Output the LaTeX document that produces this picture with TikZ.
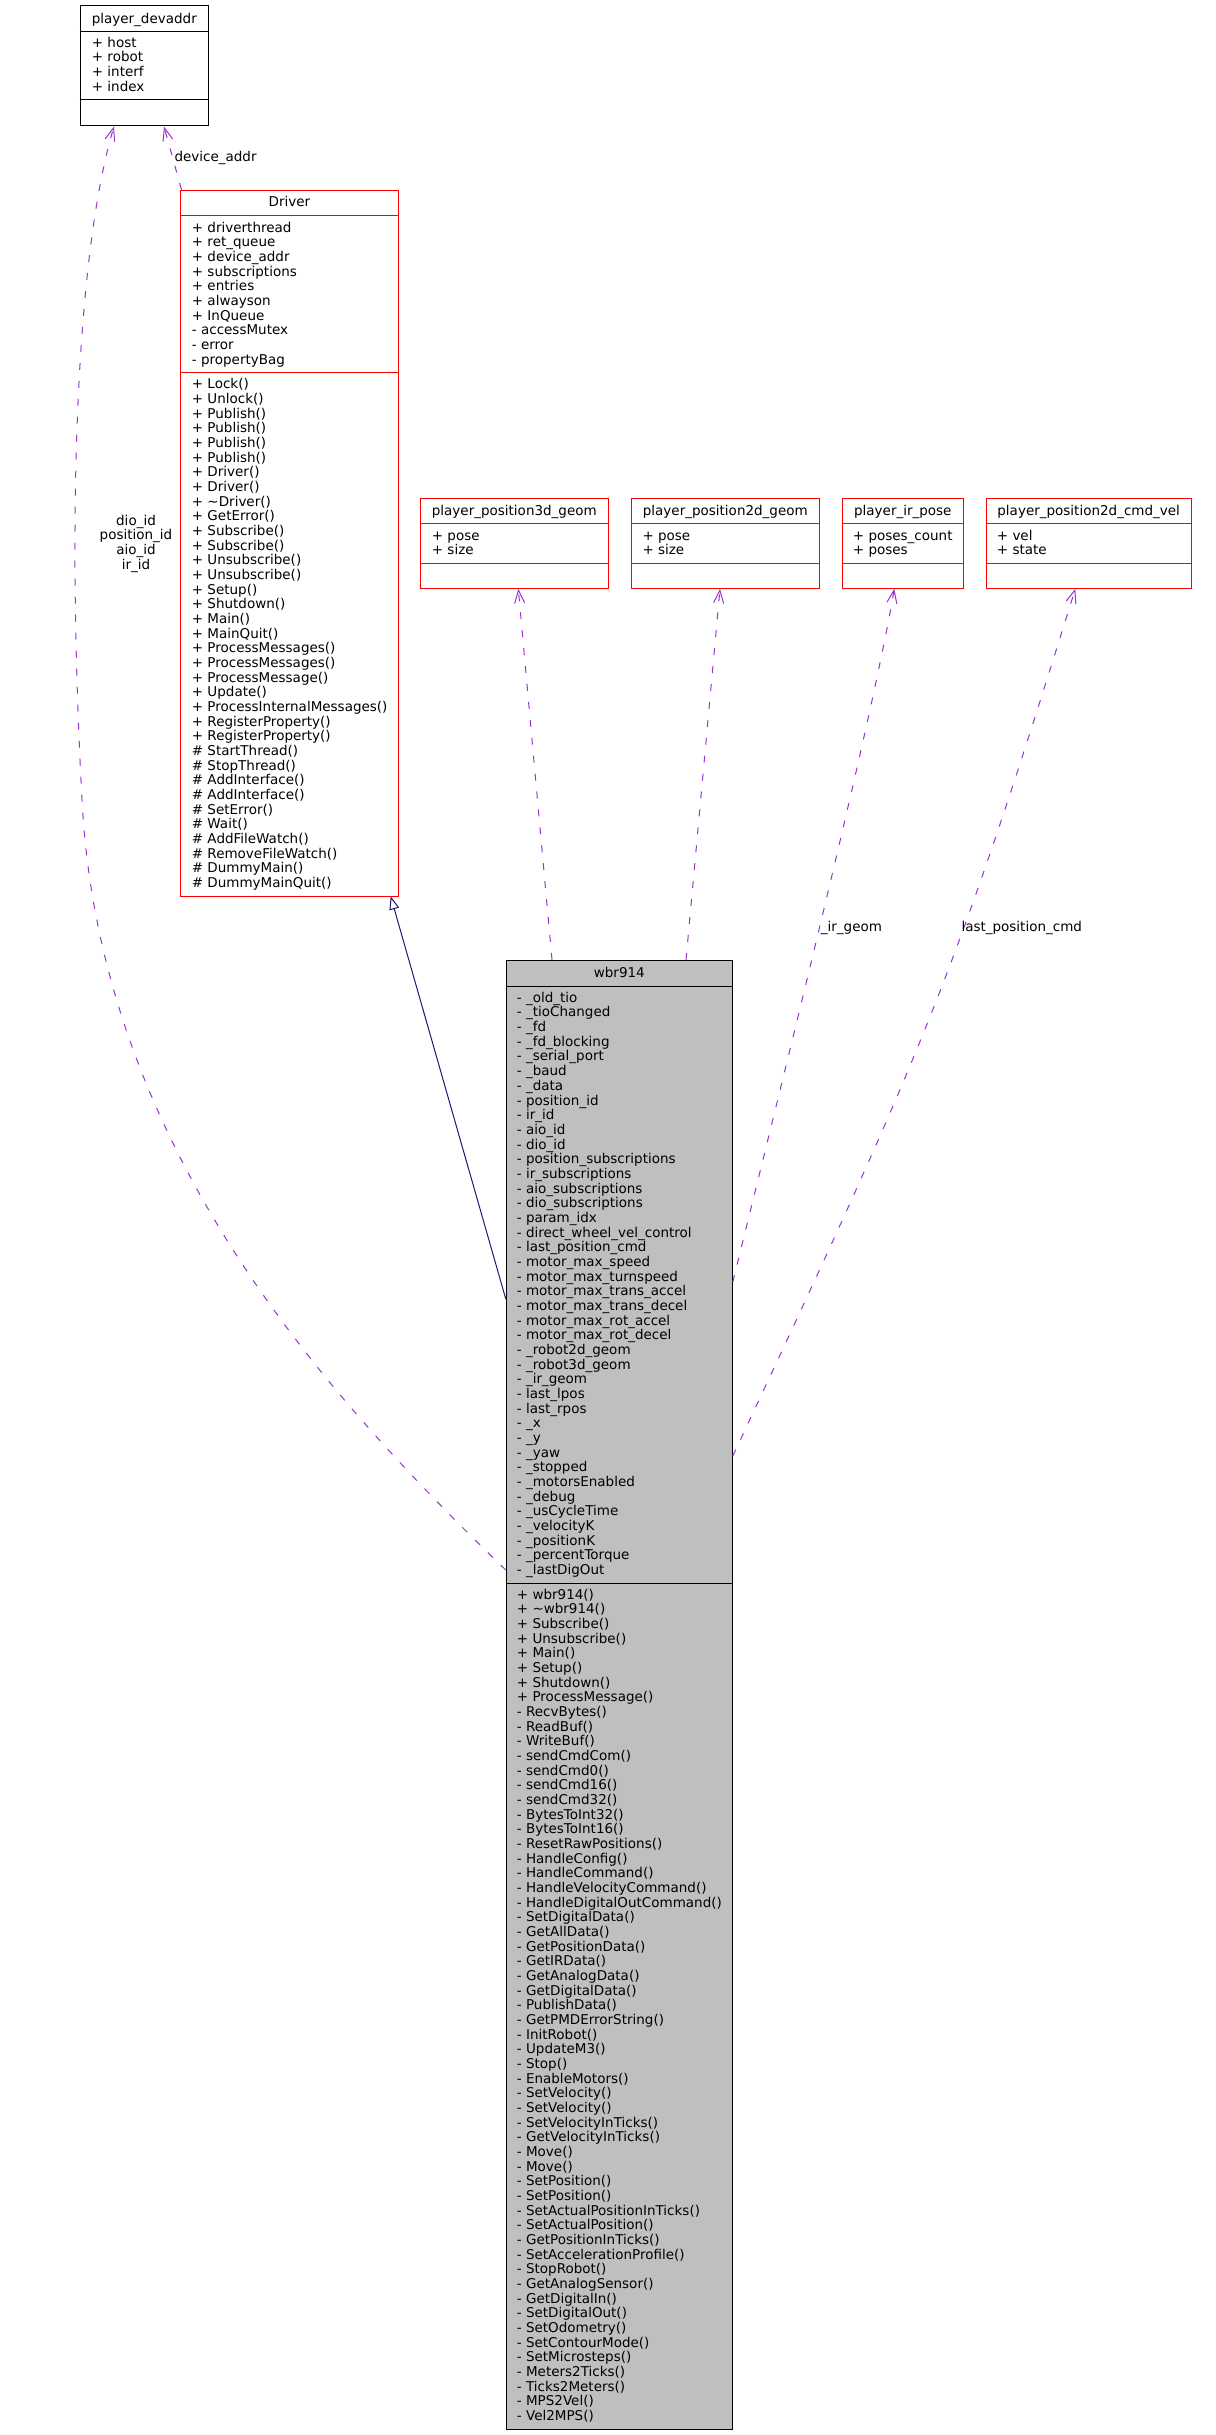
\documentclass[tikz,border=0pt]{standalone}
\usepackage{fontspec}
\newfontfamily\dvs{DejaVu Sans}
\usetikzlibrary{arrows.meta}
\definecolor{grey75}{HTML}{BFBFBF}
\definecolor{orchidline}{HTML}{9A32CD}
\definecolor{navyline}{HTML}{191970}
\newcommand\dvf{\dvs\fontsize{13.5}{14.67}\selectfont}
\newcommand\mylines[4]{\foreach \t [count=\i from 0] in {#4} {\node[mem] (#1\i) at (#2,{#3+14.67*\i}) {\t};}}
\begin{document}
\begin{tikzpicture}[x=1pt,y=-1pt,
  box/.style={draw=red, line width=1pt, rectangle, inner sep=0pt},
  kbox/.style={draw=black, line width=1pt, rectangle, inner sep=0pt},
  wbox/.style={draw=black, fill=grey75, line width=1pt, rectangle, inner sep=0pt},
  rsep/.style={draw=red, line width=1pt},
  bsep/.style={draw=black, line width=1pt},
  mem/.style={anchor=base west, inner sep=0pt, font=\dvf},
  ttl/.style={anchor=base, inner sep=0pt, font=\dvf},
  rel/.style={draw=orchidline, line width=1pt, dash pattern=on 7pt off 11pt, -{Straight Barb[length=13pt,width=10pt]}},
  inh/.style={draw=navyline, line width=1pt, -{Triangle[open,length=13pt,width=10pt]}}]
\useasboundingbox (0,0) rectangle (1215,2435);

% player_devaddr
\node[kbox, minimum width=128pt, minimum height=120pt] (dev) at (144.3,66) {};
\draw[bsep] (dev.west |- 0,31.3) -- (dev.east |- 0,31.3);
\draw[bsep] (dev.west |- 0,100) -- (dev.east |- 0,100);
\node[ttl] (devT) at (144.3,23.3) {player\_devaddr};
\mylines{devA}{91.7}{47.3}{+ host,+ robot,+ interf,+ index}

% Driver
\node[box, minimum width=218.4pt, minimum height=705.7pt] (drv) at (289.5,543.15) {};
\draw[rsep] (drv.west |- 0,215) -- (drv.east |- 0,215);
\draw[rsep] (drv.west |- 0,372.3) -- (drv.east |- 0,372.3);
\node[ttl] (drvT) at (289.5,206.7) {Driver};
\mylines{drvA}{191.7}{232.3}{+ driverthread,+ ret\_queue,+ device\_addr,+ subscriptions,+ entries,+ alwayson,+ InQueue,- accessMutex,- error,- propertyBag}
\mylines{drvM}{191.7}{388.7}{+ Lock(),+ Unlock(),+ Publish(),+ Publish(),+ Publish(),+ Publish(),+ Driver(),+ Driver(),+ \textasciitilde Driver(),+ GetError(),+ Subscribe(),+ Subscribe(),+ Unsubscribe(),+ Unsubscribe(),+ Setup(),+ Shutdown(),+ Main(),+ MainQuit(),+ ProcessMessages(),+ ProcessMessages(),+ ProcessMessage(),+ Update(),+ ProcessInternalMessages(),+ RegisterProperty(),+ RegisterProperty(),\# StartThread(),\# StopThread(),\# AddInterface(),\# AddInterface(),\# SetError(),\# Wait(),\# AddFileWatch(),\# RemoveFileWatch(),\# DummyMain(),\# DummyMainQuit()}

% player_position3d_geom
\node[box, minimum width=188pt, minimum height=90pt] (p3d) at (514.3,543.3) {};
\draw[rsep] (p3d.west |- 0,523.3) -- (p3d.east |- 0,523.3);
\draw[rsep] (p3d.west |- 0,563.3) -- (p3d.east |- 0,563.3);
\node[ttl] (p3dT) at (514.3,515) {player\_position3d\_geom};
\mylines{p3dA}{431.7}{540}{+ pose,+ size}

% player_position2d_geom
\node[box, minimum width=188pt, minimum height=90pt] (p2d) at (725.3,543.3) {};
\draw[rsep] (p2d.west |- 0,523.3) -- (p2d.east |- 0,523.3);
\draw[rsep] (p2d.west |- 0,563.3) -- (p2d.east |- 0,563.3);
\node[ttl] (p2dT) at (725.3,515) {player\_position2d\_geom};
\mylines{p2dA}{642.3}{540}{+ pose,+ size}

% player_ir_pose
\node[box, minimum width=121pt, minimum height=90pt] (irp) at (902.8,543.3) {};
\draw[rsep] (irp.west |- 0,523.3) -- (irp.east |- 0,523.3);
\draw[rsep] (irp.west |- 0,563.3) -- (irp.east |- 0,563.3);
\node[ttl] (irpT) at (902.8,515) {player\_ir\_pose};
\mylines{irpA}{852.7}{540}{+ poses\_count,+ poses}

% player_position2d_cmd_vel
\node[box, minimum width=204.7pt, minimum height=90pt] (cmd) at (1088.65,543.3) {};
\draw[rsep] (cmd.west |- 0,523.3) -- (cmd.east |- 0,523.3);
\draw[rsep] (cmd.west |- 0,563.3) -- (cmd.east |- 0,563.3);
\node[ttl] (cmdT) at (1088.65,515) {player\_position2d\_cmd\_vel};
\mylines{cmdA}{996.7}{540}{+ vel,+ state}

% wbr914
\node[wbox, minimum width=226pt, minimum height=1468.7pt] (wbr) at (619.3,1694.65) {};
\draw[bsep] (wbr.west |- 0,986.3) -- (wbr.east |- 0,986.3);
\draw[bsep] (wbr.west |- 0,1583.3) -- (wbr.east |- 0,1583.3);
\node[ttl] (wbrT) at (619.3,977.7) {wbr914};
\mylines{wbrA}{516.7}{1002.3}{- \_old\_tio,- \_tioChanged,- \_fd,- \_fd\_blocking,- \_serial\_port,- \_baud,- \_data,- position\_id,- ir\_id,- aio\_id,- dio\_id,- position\_subscriptions,- ir\_subscriptions,- aio\_subscriptions,- dio\_subscriptions,- param\_idx,- direct\_wheel\_vel\_control,- last\_position\_cmd,- motor\_max\_speed,- motor\_max\_turnspeed,- motor\_max\_trans\_accel,- motor\_max\_trans\_decel,- motor\_max\_rot\_accel,- motor\_max\_rot\_decel,- \_robot2d\_geom,- \_robot3d\_geom,- \_ir\_geom,- last\_lpos,- last\_rpos,- \_x,- \_y,- \_yaw,- \_stopped,- \_motorsEnabled,- \_debug,- \_usCycleTime,- \_velocityK,- \_positionK,- \_percentTorque,- \_lastDigOut}
\mylines{wbrM}{516.7}{1599}{+ wbr914(),+ \textasciitilde wbr914(),+ Subscribe(),+ Unsubscribe(),+ Main(),+ Setup(),+ Shutdown(),+ ProcessMessage(),- RecvBytes(),- ReadBuf(),- WriteBuf(),- sendCmdCom(),- sendCmd0(),- sendCmd16(),- sendCmd32(),- BytesToInt32(),- BytesToInt16(),- ResetRawPositions(),- HandleConfig(),- HandleCommand(),- HandleVelocityCommand(),- HandleDigitalOutCommand(),- SetDigitalData(),- GetAllData(),- GetPositionData(),- GetIRData(),- GetAnalogData(),- GetDigitalData(),- PublishData(),- GetPMDErrorString(),- InitRobot(),- UpdateM3(),- Stop(),- EnableMotors(),- SetVelocity(),- SetVelocity(),- SetVelocityInTicks(),- GetVelocityInTicks(),- Move(),- Move(),- SetPosition(),- SetPosition(),- SetActualPositionInTicks(),- SetActualPosition(),- GetPositionInTicks(),- SetAccelerationProfile(),- StopRobot(),- GetAnalogSensor(),- GetDigitalIn(),- SetDigitalOut(),- SetOdometry(),- SetContourMode(),- SetMicrosteps(),- Meters2Ticks(),- Ticks2Meters(),- MPS2Vel(),- Vel2MPS()}

% connectors
\draw[rel] (drv.north -| 181.5,0) -- (dev.south -| 164,0);
\draw[rel] (wbr.west |- 0,1570) .. controls (330,1400) and (100,1150) .. (82,800)
  .. controls (65,480) and (80,240) .. (dev.south -| 114,0);
\draw[inh] (wbr.west |- 0,1299) -- (drv.south -| 390.7,0);
\draw[rel] (wbr.north -| 552,0) -- (p3d.south -| 518.3,0);
\draw[rel] (wbr.north -| 686,0) -- (p2d.south -| 720,0);
\draw[rel] (wbr.east |- 0,1282) .. controls (790,1050) and (872,720) .. (irp.south -| 894.3,0);
\draw[rel] (wbr.east |- 0,1456) .. controls (920,1056) and (951.3,988.3) .. (cmd.south -| 1075.3,0);

% labels
\node[mem] (lblDev) at (174.3,161.7) {device\_addr};
\foreach \t [count=\i from 0] in {dio\_id,position\_id,aio\_id,ir\_id} {\node[ttl] (lblIds\i) at (136,{525+14.67*\i}) {\t};}
\node[mem] (lblIr) at (820.7,931.7) {\_ir\_geom};
\node[mem] (lblCmd) at (961.3,931.7) {last\_position\_cmd};
\end{tikzpicture}
\end{document}
